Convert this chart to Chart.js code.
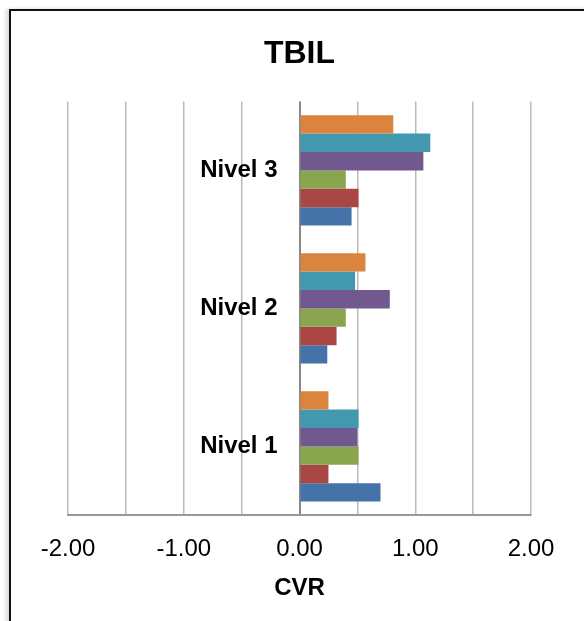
<!DOCTYPE html>
<html>
<head>
<meta charset="utf-8">
<script src="https://cdn.jsdelivr.net/npm/chart.js@4/dist/chart.umd.min.js"></script>
<style>
  html, body { margin: 0; padding: 0; background: #fff; overflow: hidden; }
  #frame {
    position: absolute; left: 9px; top: 9px; width: 640px; height: 660px;
    border: 2px solid #111; box-shadow: -3px 0 4px rgba(0,0,0,0.15);
  }
  #wrap { position: absolute; left: 0; top: 0; width: 584px; height: 621px; }
</style>
</head>
<body>
<div id="frame"></div>
<div id="wrap"><canvas id="chart"></canvas></div>
<script>
  'use strict';

  // --- Data ---
  const categories = ["Nivel 1", "Nivel 2", "Nivel 3"];
  const seriesBlue   = [0.70, 0.24, 0.45];
  const seriesRed    = [0.25, 0.32, 0.51];
  const seriesGreen  = [0.51, 0.40, 0.40];
  const seriesPurple = [0.50, 0.78, 1.07];
  const seriesTeal   = [0.51, 0.48, 1.13];
  const seriesOrange = [0.25, 0.57, 0.81];
  const xTicks = [-2, -1, 0, 1, 2];

  const series = [
    { name: "S1", data: seriesBlue,   color: "#4572A7" },
    { name: "S2", data: seriesRed,    color: "#AA4643" },
    { name: "S3", data: seriesGreen,  color: "#89A54E" },
    { name: "S4", data: seriesPurple, color: "#71588F" },
    { name: "S5", data: seriesTeal,   color: "#4198AF" },
    { name: "S6", data: seriesOrange, color: "#DB843D" }
  ];

  const fontFamily = "Liberation Sans, Arial, sans-serif";

  const ctx = document.getElementById("chart").getContext("2d");
  new Chart(ctx, {
    type: 'bar',
    data: {
      labels: categories,
      // first series sits at the bottom of each group
      datasets: series.slice().reverse().map(s => ({
        label: s.name,
        data: s.data,
        backgroundColor: s.color,
        borderWidth: 0,
        barPercentage: 1.0,
        categoryPercentage: 0.8
      }))
    },
    options: {
      indexAxis: 'y',
      responsive: true,
      maintainAspectRatio: false,
      animation: false,
      layout: { padding: { left: 68, right: 53, top: 0, bottom: 14 } },
      plugins: {
        legend: { display: false },
        tooltip: { enabled: false },
        title: {
          display: true,
          text: "TBIL",
          color: "#000",
          font: { family: fontFamily, size: 32, weight: "bold" },
          padding: { top: 35, bottom: 28 }
        }
      },
      scales: {
        x: {
          min: -2, max: 2,
          grid: {
            color: c => c.tick && c.tick.value === 0 ? "#888888" : "#BBBBBB",
            lineWidth: c => c.tick && c.tick.value === 0 ? 2 : 1.5,
            drawTicks: false
          },
          border: { display: true, color: "#999999", width: 2 },
          ticks: {
            stepSize: 0.5,
            autoSkip: false,
            maxRotation: 0,
            padding: 20,
            color: "#000",
            font: { family: fontFamily, size: 24 },
            callback: v => xTicks.includes(v) ? v.toFixed(2) : ''
          },
          title: {
            display: true,
            text: "CVR",
            color: "#000",
            font: { family: fontFamily, size: 24, weight: "bold" },
            padding: { top: -10, bottom: 4 }
          }
        },
        y: {
          reverse: true,
          // labels end a little left of the zero line
          position: { x: -0.19 },
          grid: { display: false, drawTicks: false },
          border: { display: false },
          ticks: {
            color: "#000",
            font: { family: fontFamily, size: 24, weight: "bold" }
          }
        }
      }
    }
  });
</script>
</body>
</html>
